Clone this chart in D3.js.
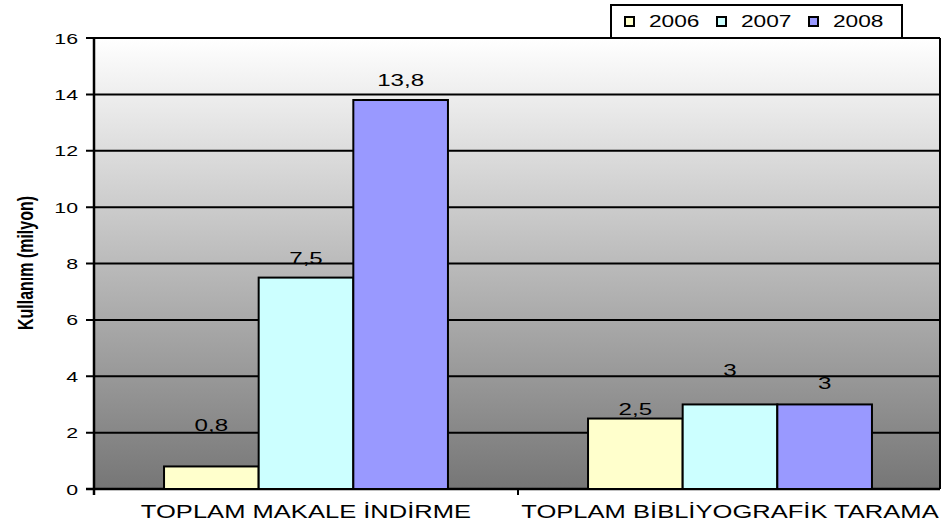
<!DOCTYPE html>
<html>
<head>
<meta charset="utf-8">
<script src="https://cdn.jsdelivr.net/npm/d3@7"></script>
<style>
  body { margin: 0; background: #fff; }
  text { font-family: "Liberation Sans", Arial, sans-serif; fill: #000; }
</style>
</head>
<body>
<div id="chart"></div>
<script>
let categories = ["TOPLAM  MAKALE İNDİRME", "TOPLAM BİBLİYOGRAFİK TARAMA"];
let years = ["2006", "2007", "2008"];
let values2006 = [0.8, 2.5];
let values2007 = [7.5, 3];
let values2008 = [13.8, 3];
let yTicks = [0, 2, 4, 6, 8, 10, 12, 14, 16];
let colors = ["#ffffcc", "#ccffff", "#9999ff"];

// label distance above the bar top (px), as placed in the original
let labelGap = [[35, 14, 14], [4, 28, 15]];

let width = 941;
let height = 524;
let sx = 1.42; // the original text is stretched horizontally

let svg = d3.select("div#chart").append("svg")
    .attr("width", width)
    .attr("height", height);

let defs = svg.append("defs");
let grad = defs.append("linearGradient")
    .attr("id", "bg")
    .attr("x1", 0).attr("y1", 0).attr("x2", 0).attr("y2", 1);
grad.append("stop").attr("offset", "0%").attr("stop-color", "#ffffff");
grad.append("stop").attr("offset", "100%").attr("stop-color", "#767676");

let plotLeft = 94, plotRight = 942, plotTop = 38, plotBottom = 489;

let x0 = d3.scaleBand()
    .domain(categories)
    .range([plotLeft, plotRight])
    .padding(0);

let x1 = d3.scaleBand()
    .domain(years)
    .range([0, x0.bandwidth()])
    .paddingInner(0)
    .paddingOuter(0.74);

let y = d3.scaleLinear()
    .domain([0, 16])
    .range([plotBottom, plotTop]);

svg.append("rect")
    .attr("x", plotLeft)
    .attr("y", plotTop)
    .attr("width", 846)
    .attr("height", plotBottom - plotTop)
    .attr("fill", "url(#bg)");

// gridlines
yTicks.forEach(t => {
    svg.append("line")
        .attr("x1", plotLeft - 8)
        .attr("x2", 940)
        .attr("y1", y(t))
        .attr("y2", y(t))
        .attr("stroke", "#000")
        .attr("stroke-width", t === 0 ? 2.5 : 2);

    svg.append("text")
        .attr("transform", "translate(78," + (y(t) + 5.5) + ") scale(" + sx + ",1)")
        .attr("text-anchor", "end")
        .style("font-size", "15px")
        .text(t);
});

// right border
svg.append("line")
    .attr("x1", 940).attr("x2", 940)
    .attr("y1", plotTop).attr("y2", plotBottom)
    .attr("stroke", "#000")
    .attr("stroke-width", 2);

// y axis line
svg.append("line")
    .attr("x1", plotLeft).attr("x2", plotLeft)
    .attr("y1", plotTop - 1).attr("y2", plotBottom + 6)
    .attr("stroke", "#000")
    .attr("stroke-width", 2.5);

// category separator tick
svg.append("line")
    .attr("x1", x0(categories[1])).attr("x2", x0(categories[1]))
    .attr("y1", plotBottom).attr("y2", plotBottom + 6)
    .attr("stroke", "#000")
    .attr("stroke-width", 2);

let series = [values2006, values2007, values2008];

categories.forEach((c, ci) => {
    years.forEach((yr, si) => {
        let v = series[si][ci];
        let bx = x0(c) + x1(yr);
        svg.append("rect")
            .attr("x", bx)
            .attr("y", y(v))
            .attr("width", x1.bandwidth())
            .attr("height", y(0) - y(v))
            .attr("fill", colors[si])
            .attr("stroke", "#000")
            .attr("stroke-width", 2);

        svg.append("text")
            .attr("transform", "translate(" + (bx + x1.bandwidth() / 2) + "," + (y(v) - labelGap[ci][si]) + ") scale(" + sx + ",1)")
            .attr("text-anchor", "middle")
            .style("font-size", "17px")
            .text(String(v).replace(".", ","));
    });

    svg.append("text")
        .attr("transform", "translate(" + (x0(c) + x0.bandwidth() / 2) + ",518) scale(" + sx + ",1)")
        .attr("text-anchor", "middle")
        .style("font-size", "18px")
        .text(c);
});

// y axis title
svg.append("text")
    .attr("transform", "translate(33,263) scale(" + sx + ",1) rotate(-90)")
    .attr("text-anchor", "middle")
    .style("font-size", "16px")
    .style("font-weight", "bold")
    .text("Kullanım (milyon)");

// legend
let legend = svg.append("g");
legend.append("rect")
    .attr("x", 611)
    .attr("y", 5)
    .attr("width", 291)
    .attr("height", 33)
    .attr("fill", "#fff")
    .attr("stroke", "#000")
    .attr("stroke-width", 2);

years.forEach((yr, i) => {
    let lx = 625 + i * 92;
    legend.append("rect")
        .attr("x", lx)
        .attr("y", 17)
        .attr("width", 9)
        .attr("height", 9)
        .attr("fill", colors[i])
        .attr("stroke", "#000")
        .attr("stroke-width", 2);
    legend.append("text")
        .attr("transform", "translate(" + (lx + 24) + ",27) scale(" + sx + ",1)")
        .style("font-size", "16px")
        .text(yr);
});
</script>
</body>
</html>
